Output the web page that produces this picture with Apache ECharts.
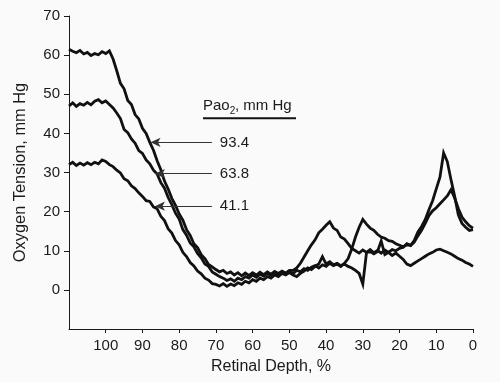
<!DOCTYPE html>
<html>
<head>
<meta charset="utf-8">
<script src="https://cdn.jsdelivr.net/npm/echarts@6/dist/echarts.min.js"></script>
<style>
html,body{margin:0;padding:0;background:#fafafa;}
#chart{width:500px;height:382px;}
</style>
</head>
<body>
<div id="chart"></div>
<script>
// Retinal depth (%) for every sample, shared by all three curves
const depth = [110,109,108,107,106,105,104,103,102,101,
  100,99,98,97,96,95,94,93,92,91,
  90,89,88,87,86,85,84,83,82,81,
  80,79,78,77,76,75,74,73,72,71,
  70,69,68,67,66,65,64,63,62,61,
  60,59,58,57,56,55,54,53,52,51,
  50,49,48,47,46,45,44,43,42,41,
  40,39,38,37,36,35,34,33,32,31,
  30,29,28,27,26,25,24,23,22,21,
  20,19,18,17,16,15,14,13,12,11,
  10,9,8,7,6,5,4,3,2,1,
  0];

// PaO2 93.4 mm Hg
const pao934 = [61.5,61.0,60.6,61.2,60.3,60.7,59.9,60.4,60.1,60.9,
  60.4,61.1,59.0,56.0,52.8,51.4,48.4,47.4,44.8,43.7,
  41.3,40.0,37.7,35.7,33.0,30.7,27.8,25.8,23.4,21.6,
  19.4,17.8,15.4,13.9,11.8,10.8,9.0,8.0,6.5,5.9,
  5.2,4.6,5.0,4.2,4.6,3.8,4.4,3.6,4.3,3.7,
  4.4,3.8,4.5,3.9,4.6,4.0,4.7,4.2,4.8,4.3,
  5.0,5.0,5.6,6.8,8.4,10.0,11.5,12.8,14.6,15.5,
  16.5,17.4,15.8,15.2,13.5,13.0,11.8,10.6,10.0,9.4,
  10.2,9.6,10.3,9.5,10.1,9.4,10.2,9.6,10.3,10.0,
  10.6,10.9,11.8,11.4,12.6,14.8,16.2,18.0,20.5,22.8,
  25.8,28.8,35.0,32.8,28.2,24.0,19.2,17.0,16.0,15.2,
  15.4];

// PaO2 63.8 mm Hg
const pao638 = [47.0,47.8,46.9,47.6,47.2,47.9,47.3,48.2,48.6,47.8,
  48.3,47.4,46.5,45.2,43.8,41.0,40.2,38.6,37.5,35.6,
  34.9,33.2,32.2,30.6,29.6,27.4,26.0,23.6,21.8,19.6,
  18.1,15.4,14.0,12.0,11.0,9.3,8.2,6.6,6.0,4.6,
  4.0,3.4,3.0,2.4,2.8,2.2,3.0,2.6,3.4,3.0,
  3.8,3.2,4.0,3.5,4.2,3.7,4.4,3.9,4.6,4.1,
  4.7,4.2,5.0,4.6,5.4,5.0,5.8,6.2,5.6,6.4,
  6.0,6.8,6.2,6.6,6.0,6.8,8.0,10.5,13.5,16.0,
  18.0,16.8,15.8,15.2,14.2,13.5,13.2,12.6,12.4,11.8,
  11.4,11.0,11.6,11.3,12.2,13.8,15.2,17.0,19.0,20.2,
  21.0,22.0,23.0,24.0,25.6,23.5,20.8,18.6,17.4,16.4,
  15.8];

// PaO2 41.1 mm Hg
const pao411 = [32.0,32.6,31.8,32.4,31.9,32.5,32.0,32.6,32.2,33.2,
  32.8,32.0,31.5,30.6,29.9,28.4,27.9,26.6,25.9,24.8,
  23.9,22.8,22.6,21.2,20.7,18.8,17.7,15.6,14.5,12.6,
  11.5,9.6,8.5,7.0,6.1,4.8,4.1,3.0,2.5,1.6,
  1.4,1.0,1.6,0.9,1.5,1.1,1.8,1.4,2.2,1.8,
  2.6,2.2,3.0,2.6,3.4,3.0,3.8,3.4,4.2,3.8,
  4.4,3.8,3.4,4.2,4.8,5.6,5.2,6.0,6.6,8.5,
  6.6,7.2,6.4,6.8,6.2,6.6,6.0,5.6,5.0,4.2,
  1.5,9.5,9.8,9.2,9.8,12.5,9.0,9.6,8.8,9.4,
  8.6,7.8,6.6,6.2,6.8,7.4,8.0,8.6,9.2,9.6,
  10.2,10.4,10.0,9.6,9.2,8.6,8.0,7.6,7.0,6.6,
  6.0];

const xTicks = [0,10,20,30,40,50,60,70,80,90,100];
const yTicks = [0,10,20,30,40,50,60,70];
const seriesLabels = ['93.4','63.8','41.1'];
// arrow annotations: [tail depth, tip depth, tension]
const arrows = [[71.1, 87.8, 37.7],[71.1, 86.6, 29.7],[71.1, 86.6, 21.4]];
const legendTitle = ['Pao', '2', ', mm Hg'];

const FONT = 'Liberation Sans, Arial, sans-serif';
const INK = '#1a1a1a';

const chart = echarts.init(document.getElementById('chart'), null, {renderer:'canvas'});

const seriesData = [pao934, pao638, pao411];
const series = seriesData.map((vals, i) => ({
  type: 'line',
  name: seriesLabels[i],
  showSymbol: false,
  symbol: 'none',
  silent: true,
  data: depth.map((d, j) => [d, vals[j]]),
  lineStyle: {color: '#111', width: 2.8, join: 'miter'},
  markLine: {
    silent: true,
    symbol: ['none', 'arrow'],
    symbolSize: [7, 10],
    lineStyle: {color: '#333', width: 1, type: 'solid'},
    label: {show: true, position: 'start', formatter: seriesLabels[i], fontSize: 15, color: INK, fontFamily: FONT, distance: 8},
    data: [[{coord: [arrows[i][0], arrows[i][2]]}, {coord: [arrows[i][1], arrows[i][2]]}]]
  }
}));

chart.setOption({
  animation: false,
  backgroundColor: '#fafafa',
  grid: {left: 69, right: 27, top: 16, bottom: 53},
  xAxis: {
    type: 'value', inverse: true, min: 0, max: 110, interval: 10,
    axisLine: {show: true, onZero: false, lineStyle: {color: INK, width: 1}},
    axisTick: {show: true, length: 4, customValues: xTicks, lineStyle: {color: INK}},
    axisLabel: {customValues: xTicks, margin: 9, fontSize: 15, color: INK, fontFamily: FONT},
    splitLine: {show: false},
    name: 'Retinal Depth, %', nameLocation: 'middle', nameGap: 30,
    nameTextStyle: {fontSize: 16, color: INK, fontFamily: FONT}
  },
  yAxis: {
    type: 'value', min: -10, max: 70, interval: 10,
    axisLine: {show: true, onZero: false, lineStyle: {color: INK, width: 1}},
    axisTick: {show: true, length: 5, customValues: yTicks, lineStyle: {color: INK}},
    axisLabel: {customValues: yTicks, margin: 9, fontSize: 15, color: INK, fontFamily: FONT},
    splitLine: {show: false},
    name: 'Oxygen Tension, mm Hg', nameLocation: 'middle', nameGap: 41, nameRotate: 90,
    nameTextStyle: {fontSize: 16.4, color: INK, fontFamily: FONT}
  },
  graphic: [
    {type: 'text', x: 203, y: 106, style: {text: legendTitle[0], font: '15px ' + FONT, fill: INK, verticalAlign: 'middle'}},
    {type: 'text', x: 229.8, y: 111, style: {text: legendTitle[1], font: '10px ' + FONT, fill: INK, verticalAlign: 'middle'}},
    {type: 'text', x: 235, y: 106, style: {text: legendTitle[2], font: '15px ' + FONT, fill: INK, verticalAlign: 'middle'}},
    {type: 'line', shape: {x1: 203, y1: 118.3, x2: 296, y2: 118.3}, style: {stroke: '#111', lineWidth: 2}}
  ],
  series: series
});
</script>
</body>
</html>
